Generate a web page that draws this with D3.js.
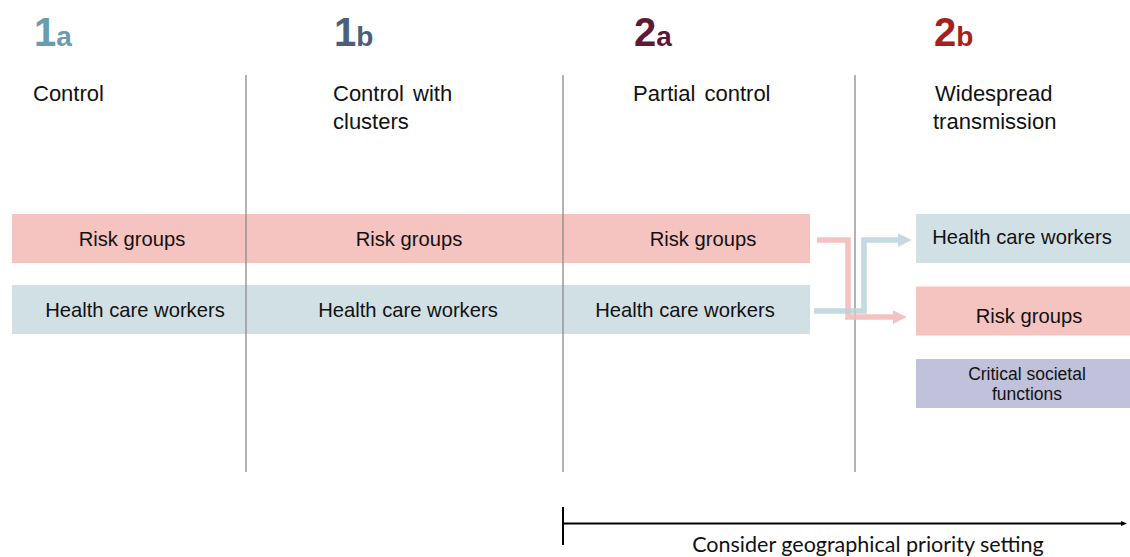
<!DOCTYPE html>
<html>
<head>
<meta charset="utf-8">
<script src="https://cdn.jsdelivr.net/npm/d3@7"></script>
<style>
  body { margin: 0; background: #fff; }
  svg { display: block; font-family: "Liberation Sans", Arial, sans-serif; }
</style>
</head>
<body>
<div id="chart"></div>
<script>
// canvas
const width = 1130;
const height = 557;

// data
const phaseNums = ["1", "1", "2", "2"];
const phaseLetters = ["a", "b", "a", "b"];
const phaseColors = ["#6b9cad", "#4b6078", "#5c1a35", "#a3221d"];
const phaseTitles = [["Control"], ["Control with", "clusters"], ["Partial control"], ["Widespread", "transmission"]];
const earlyGroups = ["Risk groups", "Health care workers"];
const lateGroups = ["Health care workers", "Risk groups", "Critical societal functions"];
const groupColors = {"Risk groups": "#f5c3c0", "Health care workers": "#d1e0e5", "Critical societal functions": "#c1c1db"};
const arrowColors = {"Risk groups": "#f4bdb9", "Health care workers": "#bcd3db"};
const bottomNote = "Consider geographical priority setting";

// layout
const dividers = [246, 563, 855];
const barLeft = 12, barRight = 810;
const boxLeft = 916, boxRight = 1130;

const svg = d3.select("#chart").append("svg").attr("width", width).attr("height", height);

// phase column scale (x position of column text)
const xPhase = d3.scalePoint().domain(d3.range(4)).range([33, 933]);
// row scales: left bars and right boxes
const yRow = d3.scaleBand().domain(d3.range(2)).range([214, 214 + 71 * 2 - 22]).paddingInner(22 / 71).paddingOuter(0);
const yBox = d3.scaleBand().domain(d3.range(3)).range([214, 214 + 72.5 * 3 - 23.5]).paddingInner(23.5 / 72.5).paddingOuter(0);

const defs = svg.append("defs");
Object.entries(arrowColors).forEach(([k, c], i) => {
  defs.append("marker")
    .attr("id", "ah" + i)
    .attr("viewBox", "0 0 10 10")
    .attr("refX", 0).attr("refY", 5)
    .attr("markerWidth", 2.5).attr("markerHeight", 2.7)
    .attr("markerUnits", "strokeWidth")
    .attr("orient", "auto")
    .append("path").attr("d", "M0,0L10,5L0,10Z").attr("fill", c);
});
defs.append("marker")
  .attr("id", "axisHead")
  .attr("viewBox", "0 0 10 10")
  .attr("refX", 5).attr("refY", 5)
  .attr("markerWidth", 3).attr("markerHeight", 3)
  .attr("orient", "auto")
  .append("path").attr("d", "M0,1L10,5L0,9Z").attr("fill", "#000");

// phase headers
const head = svg.selectAll(".head").data(d3.range(4)).join("text")
  .attr("class", "head")
  .attr("x", i => xPhase(i) + 1)
  .attr("y", 46)
  .attr("fill", i => phaseColors[i])
  .attr("font-weight", "bold");
head.append("tspan").attr("font-size", 40).text(i => phaseNums[i]);
head.append("tspan").attr("font-size", 28).text(i => phaseLetters[i]);

// phase titles
svg.selectAll(".title").data(d3.range(4)).join("text")
  .attr("class", "title")
  .attr("x", i => xPhase(i))
  .attr("y", 101)
  .attr("font-size", 22)
  .attr("fill", "#111")
  .selectAll("tspan").data(i => phaseTitles[i].map(t => ({t, x: xPhase(i)}))).join("tspan")
  .attr("x", d => d.x + (d.t === "Widespread" ? 2 : 0))
  .attr("dy", (d, j) => j === 0 ? 0 : 28)
  .attr("word-spacing", 3)
  .text(d => d.t);

// long bars for phases 1a..2a
svg.selectAll(".bar").data(earlyGroups).join("rect")
  .attr("class", "bar")
  .attr("x", barLeft)
  .attr("y", (d, i) => yRow(i))
  .attr("width", barRight - barLeft)
  .attr("height", yRow.bandwidth())
  .attr("fill", d => groupColors[d]);

// bar labels within each phase segment
const segCenters = {"Risk groups": [132, 409, 703], "Health care workers": [135, 408, 685]};
earlyGroups.forEach((g, i) => {
  svg.selectAll(".lbl" + i).data(segCenters[g]).join("text")
    .attr("x", d => d)
    .attr("y", yRow(i) + yRow.bandwidth() / 2 + 7.5)
    .attr("text-anchor", "middle")
    .attr("font-size", 20.2)
    .attr("fill", "#111")
    .text(g);
});

// divider lines
svg.selectAll(".div").data(dividers).join("line")
  .attr("x1", d => d).attr("x2", d => d)
  .attr("y1", 75).attr("y2", 472)
  .attr("stroke", "#8a8a8a").attr("stroke-width", 1.3);

// right boxes (phase 2b)
svg.selectAll(".box").data(lateGroups).join("rect")
  .attr("class", "box")
  .attr("x", boxLeft).attr("y", (d, i) => yBox(i))
  .attr("width", boxRight - boxLeft).attr("height", yBox.bandwidth())
  .attr("fill", d => groupColors[d]);

svg.selectAll(".boxlbl").data(lateGroups).join("text")
  .attr("class", "boxlbl")
  .attr("text-anchor", "middle")
  .attr("fill", "#111")
  .each(function (d, i) {
    const t = d3.select(this);
    const y0 = yBox(i);
    if (d === "Critical societal functions") {
      t.attr("font-size", 17.5);
      t.append("tspan").attr("x", 1027).attr("y", y0 + 21).text("Critical societal");
      t.append("tspan").attr("x", 1027).attr("y", y0 + 41).text("functions");
    } else if (d === "Risk groups") {
      t.attr("font-size", 20.2).attr("x", 1029).attr("y", y0 + 36).text(d);
    } else {
      t.attr("font-size", 20.2).attr("x", 1022).attr("y", y0 + 30).text(d);
    }
  });

// reordering arrows
const line = d3.line();
svg.append("path")
  .attr("d", line([[817, 240], [848, 240], [848, 317], [893, 317]]))
  .attr("fill", "none").attr("stroke", arrowColors["Risk groups"]).attr("stroke-width", 5.5)
  .attr("opacity", 0.9).attr("marker-end", "url(#ah0)");
svg.append("path")
  .attr("d", line([[814, 311], [864, 311], [864, 240], [898, 240]]))
  .attr("fill", "none").attr("stroke", arrowColors["Health care workers"]).attr("stroke-width", 5.5)
  .attr("opacity", 0.85).attr("marker-end", "url(#ah1)");

// bottom axis
svg.append("line").attr("x1", 563).attr("x2", 563).attr("y1", 507).attr("y2", 545)
  .attr("stroke", "#000").attr("stroke-width", 2);
svg.append("line").attr("x1", 563).attr("x2", 1124).attr("y1", 523.5).attr("y2", 523.5)
  .attr("stroke", "#000").attr("stroke-width", 2).attr("marker-end", "url(#axisHead)");
svg.append("text")
  .attr("x", 868).attr("y", 552)
  .attr("text-anchor", "middle")
  .attr("font-family", "Lato, sans-serif")
  .attr("font-size", 21.5)
  .attr("fill", "#111")
  .text(bottomNote);
</script>
</body>
</html>
